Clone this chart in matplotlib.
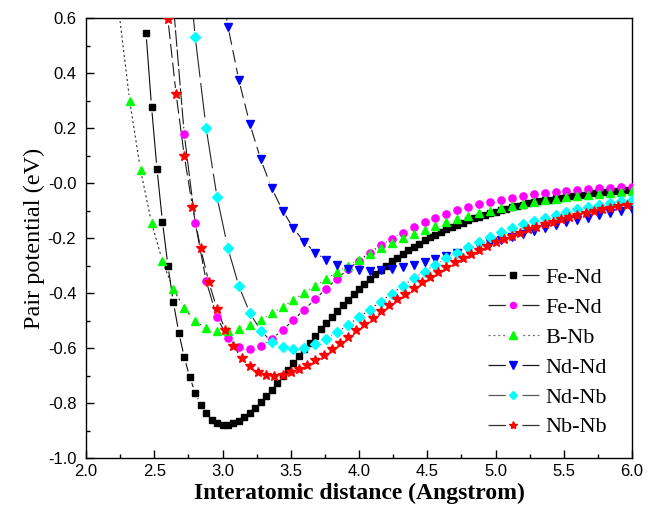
import numpy as np
import matplotlib
matplotlib.use('Agg')
import matplotlib.pyplot as plt
from matplotlib.collections import LineCollection
from matplotlib.lines import Line2D

plt.rcParams['lines.scale_dashes'] = False

# Data (eV), x grids in Angstrom
labels = ['Fe-Nd', 'Fe-Nd', 'B-Nb', 'Nd-Nd', 'Nd-Nb', 'Nb-Nb']
x_start = [2.44, 2.64, 2.24, 2.96, 2.72, 2.54]
x_step = [0.04, 0.08, 0.08, 0.08, 0.08, 0.06]

fend = [544, 278, 52, -140, -300, -434, -544, -634, -706, -763, -806, -838, -860, -873, -879,
        -879, -874, -865, -852, -836, -817, -797, -775, -752, -728, -703, -679, -654, -629, -604,
        -580, -556, -532, -509, -487, -465, -444, -424, -404, -385, -367, -349, -332, -316, -300,
        -285, -271, -257, -244, -232, -220, -209, -198, -188, -178, -169, -160, -152, -144, -136,
        -129, -122, -116, -109, -104, -98, -93, -88, -83, -79, -74, -70, -67, -63, -60,
        -56, -53, -50, -48, -45, -43, -40, -38, -36, -34, -32, -30, -29, -27, -26]
fend2 = [648, 177, -144, -356, -489, -564, -598, -604, -592, -567, -535, -498, -460, -422, -384,
         -348, -314, -282, -253, -226, -202, -180, -160, -142, -126, -111, -99, -87, -77, -68,
         -60, -53, -47, -41, -36, -32, -28, -25, -22, -19, -17, -15, -13]
bnb = [628, 299, 46, -144, -284, -386, -456, -501, -527, -539, -539, -530, -516, -497, -474,
       -450, -425, -399, -374, -349, -324, -301, -279, -257, -237, -219, -201, -185, -170, -156,
       -143, -130, -119, -109, -100, -91, -83, -76, -69, -63, -58, -52, -48, -44, -40,
       -36, -33, -30]
ndnd = [805, 569, 374, 215, 86, -18, -100, -165, -215, -253, -280, -299, -312, -318, -320,
        -318, -314, -307, -298, -288, -278, -266, -254, -242, -230, -218, -206, -195, -184, -173,
        -163, -153, -143, -134, -126, -118, -110, -103, -96]
ndnb = [961, 531, 200, -51, -238, -375, -472, -537, -577, -598, -604, -599, -586, -566, -543,
        -516, -488, -460, -431, -402, -374, -347, -322, -297, -274, -253, -232, -213, -196, -179,
        -164, -150, -138, -126, -115, -105, -96, -87, -80, -72, -66, -60]
nbnb = [920, 595, 324, 99, -87, -238, -361, -458, -534, -593, -636, -666, -686, -697, -700,
        -697, -689, -677, -662, -645, -625, -604, -582, -559, -536, -513, -490, -467, -445, -423,
        -402, -381, -361, -342, -324, -306, -289, -273, -257, -243, -229, -215, -203, -191, -180,
        -169, -159, -149, -140, -132, -124, -116, -109, -102, -96, -90, -85, -79]
series = [fend, fend2, bnb, ndnd, ndnb, nbnb]

colors = ['black', '#ff00ff', '#00ff00', '#0000ff', '#00ffff', '#ff0000']
markers = ['s', 'o', '^', 'v', 'D', '*']
msizes = [4.3, 5.2, 6.2, 6.2, 4.6, 7.0]
dashes = ['-', (0, (12, 2)), (0, (1.5, 2)), (0, (9, 4)), (0, (25, 4)), (0, (10, 3.5))]
line_col = ['0.05', '0.1', '0.15', '0.1', '0.15', '0.1']

fig = plt.figure(figsize=(6.56, 5.16), dpi=100)
ax = fig.add_axes([86 / 656, 58 / 516, 546 / 656, 440 / 516])
ax.set_xlim(2.0, 6.0)
ax.set_ylim(-1.0, 0.6)


def gapped_line(ax, x, y, gap, **kw):
    # Origin style: line segments stop short of each symbol
    pts = ax.transData.transform(np.column_stack([x, y]))
    inv = ax.transData.inverted()
    segs = []
    for p, q in zip(pts[:-1], pts[1:]):
        d = q - p
        L = np.hypot(d[0], d[1])
        if L > 2 * gap:
            u = d / L
            segs.append(inv.transform(np.array([p + u * gap, q - u * gap])))
    lc = LineCollection(segs, **kw)
    ax.add_collection(lc)


for i, vals in enumerate(series):
    y = np.array(vals) / 1000.0
    x = np.round(x_start[i] + x_step[i] * np.arange(len(y)), 2)
    gapped_line(ax, x, y, 6, colors=line_col[i], linewidths=0.8,
                linestyles=dashes[i], zorder=2)
    ax.plot(x, y, linestyle='none', marker=markers[i], markersize=msizes[i],
            color=colors[i], markeredgecolor=colors[i], zorder=3 + i)

ax.set_xticks(np.arange(2.0, 6.01, 0.5))
ax.set_xticks(np.arange(2.0, 6.01, 0.25), minor=True)
ax.set_yticks(np.arange(-1.0, 0.61, 0.2))
ax.set_yticks(np.arange(-1.0, 0.61, 0.1), minor=True)
ax.set_xticklabels(['%.1f' % v for v in np.arange(2.0, 6.01, 0.5)])
ax.set_yticklabels(['%.1f' % v for v in np.arange(-1.0, 0.61, 0.2)])
ax.tick_params(which='both', direction='in', top=False, right=False, width=1.0)
ax.tick_params(which='major', length=5.5)
ax.tick_params(which='minor', length=3)
ax.tick_params(axis='x', pad=4)
ax.tick_params(axis='y', pad=7)
for lab in ax.get_xticklabels() + ax.get_yticklabels():
    lab.set_fontfamily('Liberation Sans')
    lab.set_fontsize(12)
for sp in ax.spines.values():
    sp.set_linewidth(1.0)

ax.set_xlabel('Interatomic distance (Angstrom)', fontfamily='Liberation Serif',
              fontweight='bold', fontsize=17, labelpad=3)
ax.set_ylabel('Pair potential (eV)', fontfamily='Liberation Serif', fontsize=17.5, labelpad=2)

# legend handles: short line pieces left and right of the symbol
solid_gap = (0, (12.5, 12, 12.5, 100))
leg_dash = [solid_gap, solid_gap,
            (0, (1.5, 2, 1.5, 2, 1.5, 2, 1.5, 13, 1.5, 2, 1.5, 2, 1.5, 2, 1.5, 100)),
            solid_gap, solid_gap, solid_gap]
leg_col = ['0.15', '0.15', '0.45', '0.1', '0.35', '0.2']
handles = [Line2D([], [], color=leg_col[i], linewidth=0.9, linestyle=leg_dash[i],
                  marker=markers[i], markersize=msizes[i] * 0.85,
                  markerfacecolor=colors[i], markeredgecolor=colors[i])
           for i in range(len(labels))]
ax.legend(handles, labels, loc='upper left', bbox_to_anchor=(0.736, 0.433),
          frameon=False, borderpad=0, borderaxespad=0, handlelength=2.3,
          handletextpad=0.3, labelspacing=0.42,
          prop={'family': 'Liberation Serif', 'size': 16})

fig.savefig('out.png', dpi=100)
